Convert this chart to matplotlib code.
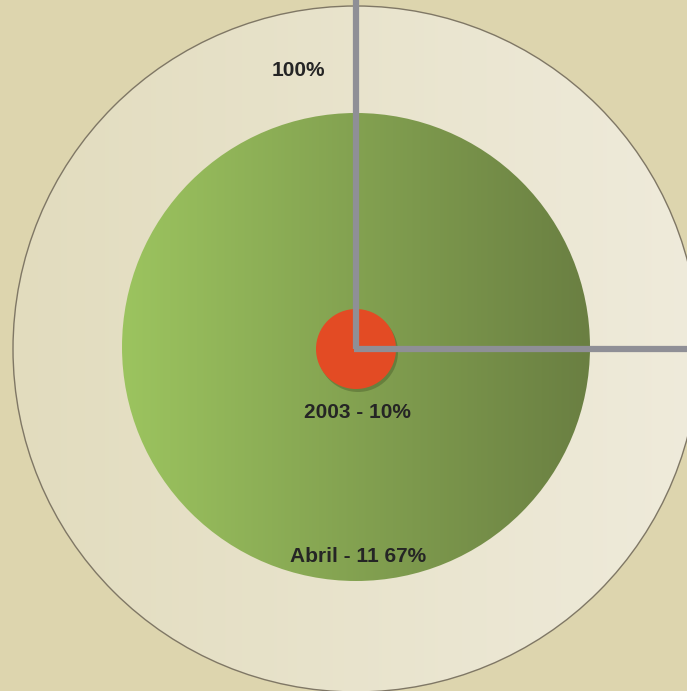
import numpy as np
import matplotlib.pyplot as plt
from matplotlib.patches import Circle
from matplotlib.colors import LinearSegmentedColormap

# data
labels = ['100%', '2003 - 10%', 'Abril - 11 67%']
values = [100, 10, 11.67]

# layout (pixels)
W, H = 687, 691
cx, cy = 356, 349
r_outer = 343
r_green = 234
r_red = 40

fig = plt.figure(figsize=(W / 100, H / 100), dpi=100)
fig.patch.set_facecolor('#ddd5ae')
ax = fig.add_axes([0, 0, 1, 1])
ax.set_xlim(0, W)
ax.set_ylim(H, 0)
ax.set_aspect('auto')
ax.axis('off')


def gradient_circle(r, c_left, c_right, zorder, y0=cy, edge=None):
    cmap = LinearSegmentedColormap.from_list('g', [c_left, c_right])
    grad = np.linspace(0, 1, 256).reshape(1, -1)
    im = ax.imshow(grad, cmap=cmap, extent=[cx - r, cx + r, y0 + r, y0 - r],
                   aspect='auto', zorder=zorder, interpolation='bilinear')
    clip = Circle((cx, y0), r, transform=ax.transData, facecolor='none')
    im.set_clip_path(clip)
    if edge:
        ax.add_patch(Circle((cx, y0), r, facecolor='none', edgecolor=edge,
                            lw=1.0, zorder=zorder + 0.1))


# outer ring (100%)
gradient_circle(r_outer, '#e2dcbe', '#efebdb', 1, edge='#7f7765')
# green circle
gradient_circle(r_green, '#9cc45f', '#6a7f42', 2, y0=347)

# red circle with soft shadow
ax.add_patch(Circle((cx + 2, cy + 3), r_red, facecolor='#3a4a20', alpha=0.35,
                    edgecolor='none', zorder=3))
ax.add_patch(Circle((cx, cy), r_red, facecolor='#e34b24', edgecolor='none',
                    zorder=4))

# gray axes lines
ax.plot([cx, cx], [0, cy], color='#8f8f96', lw=4.5, solid_capstyle='butt',
        zorder=5)
ax.plot([cx - 2.2, W], [cy, cy], color='#8f8f96', lw=4.5,
        solid_capstyle='butt', zorder=5)

# labels
font = dict(family='Liberation Sans', fontweight='bold', fontsize=15,
            color='#252525', ha='center', va='center', zorder=6)
ax.text(298, 70, labels[0], **font)
ax.text(357, 412, labels[1], **font)
ax.text(358, 556, labels[2], **font)

fig.savefig('out.png', dpi=100, facecolor=fig.get_facecolor())
